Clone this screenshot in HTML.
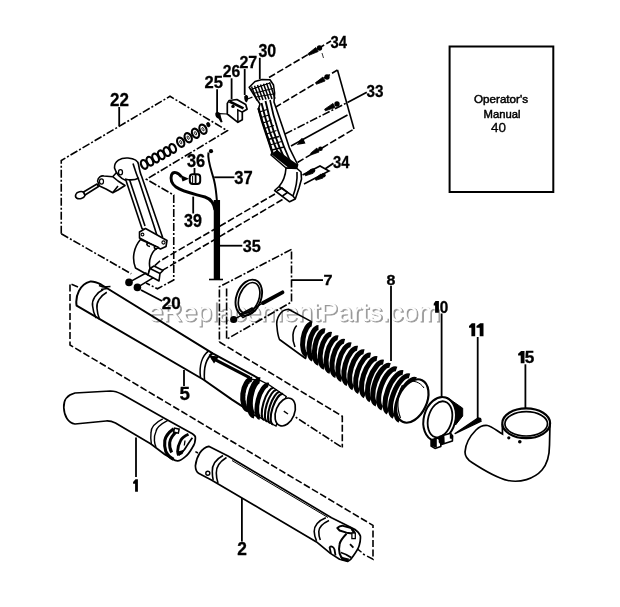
<!DOCTYPE html>
<html><head><meta charset="utf-8"><title>Parts diagram</title>
<style>
html,body{margin:0;padding:0;background:#fff;}
body{width:620px;height:607px;overflow:hidden;}
svg{display:block;font-family:"Liberation Sans",sans-serif;}
.s{fill:none;stroke:#000;}
.p{fill:#fff;stroke:#000;stroke-linejoin:round;}
.d{fill:none;stroke:#000;stroke-dasharray:7 2.5;}
.dd{fill:none;stroke:#000;stroke-dasharray:8 2 2 2;}

</style></head><body>
<svg width="620" height="607" viewBox="0 0 620 607">
<rect width="620" height="607" fill="#fff"/>
<g stroke-width="1.6">
<rect x="449.6" y="46.5" width="103.7" height="145.5" fill="none" stroke="#000" stroke-width="2"/>
<text x="501" y="103" font-size="10.5" text-anchor="middle" textLength="54" lengthAdjust="spacingAndGlyphs" stroke="#000" stroke-width="0.45">Operator's</text>
<text x="502" y="117.5" font-size="10.5" text-anchor="middle" textLength="37" lengthAdjust="spacingAndGlyphs" stroke="#000" stroke-width="0.45">Manual</text>
<text x="498.5" y="131.5" font-size="13" text-anchor="middle" textLength="15" lengthAdjust="spacingAndGlyphs" stroke="#000" stroke-width="0.3">40</text>
<path d="M438.9,301 L438.9,312.7 L435.10,312.7 L435.10,305.5 L433.7,305.5 L433.7,303.7 L435.50,301 Z" fill="#000"/>
<path d="M475.2,323.2 L475.2,336.2 L471.40,336.2 L471.40,327.7 L469,327.7 L469,325.9 L471.80,323.2 Z" fill="#000"/>
<path d="M483.5,323.2 L483.5,336.2 L479.70,336.2 L479.70,327.7 L476.5,327.7 L476.5,325.9 L480.10,323.2 Z" fill="#000"/>
<path d="M524.5,351 L524.5,363.3 L520.70,363.3 L520.70,355.5 L518.1,355.5 L518.1,353.7 L521.10,351 Z" fill="#000"/>
<path d="M137.9,479.2 L137.9,491.8 L135.10,491.8 L135.10,483.7 L133.1,483.7 L133.1,481.9 L135.50,479.2 Z" fill="#000"/>
<text transform="translate(110.09,105.80) scale(0.930,1)" font-size="18.30" font-weight="bold" stroke="#000" stroke-width="0.3">22</text>
<text transform="translate(204.60,88.10) scale(0.966,1)" font-size="17.16" font-weight="bold" stroke="#000" stroke-width="0.3">25</text>
<text transform="translate(222.73,77.20) scale(0.929,1)" font-size="16.88" font-weight="bold" stroke="#000" stroke-width="0.3">26</text>
<text transform="translate(239.42,67.80) scale(0.936,1)" font-size="17.16" font-weight="bold" stroke="#000" stroke-width="0.3">27</text>
<text transform="translate(258.48,56.60) scale(0.897,1)" font-size="17.73" font-weight="bold" stroke="#000" stroke-width="0.3">30</text>
<text transform="translate(330.60,47.80) scale(0.875,1)" font-size="16.88" font-weight="bold" stroke="#000" stroke-width="0.3">34</text>
<text transform="translate(366.50,97.20) scale(0.910,1)" font-size="16.74" font-weight="bold" stroke="#000" stroke-width="0.3">33</text>
<text transform="translate(333.10,167.70) scale(0.938,1)" font-size="15.74" font-weight="bold" stroke="#000" stroke-width="0.3">34</text>
<text transform="translate(186.97,167.30) scale(0.939,1)" font-size="17.45" font-weight="bold" stroke="#000" stroke-width="0.3">36</text>
<text transform="translate(234.37,183.70) scale(0.927,1)" font-size="17.87" font-weight="bold" stroke="#000" stroke-width="0.3">37</text>
<text transform="translate(184.08,227.30) scale(0.880,1)" font-size="18.30" font-weight="bold" stroke="#000" stroke-width="0.3">39</text>
<text transform="translate(242.68,251.80) scale(0.945,1)" font-size="17.16" font-weight="bold" stroke="#000" stroke-width="0.3">35</text>
<text transform="translate(323.55,285.20) scale(1.046,1)" font-size="15.46" font-weight="bold" stroke="#000" stroke-width="0.3">7</text>
<text transform="translate(386.42,285.20) scale(1.085,1)" font-size="14.75" font-weight="bold" stroke="#000" stroke-width="0.3">8</text>
<text transform="translate(439.74,312.70) scale(0.925,1)" font-size="16.60" font-weight="bold" stroke="#000" stroke-width="0.3">0</text>
<text transform="translate(524.68,363.40) scale(0.994,1)" font-size="17.30" font-weight="bold" stroke="#000" stroke-width="0.3">5</text>
<text transform="translate(179.54,399.80) scale(1.052,1)" font-size="17.87" font-weight="bold" stroke="#000" stroke-width="0.3">5</text>
<text transform="translate(237.18,554.70) scale(0.948,1)" font-size="18.30" font-weight="bold" stroke="#000" stroke-width="0.3">2</text>
<line class="s" x1="119.2" y1="107" x2="119.2" y2="126" stroke-width="1.8"/>
<line class="s" x1="217.1" y1="89.3" x2="217.1" y2="112.5" stroke-width="1.8"/>
<line class="s" x1="231.6" y1="78.3" x2="231.6" y2="99" stroke-width="1.8"/>
<line class="s" x1="244.7" y1="69" x2="244.7" y2="95" stroke-width="1.8"/>
<line class="s" x1="259.8" y1="57.8" x2="259.8" y2="79" stroke-width="1.8"/>
<line class="s" x1="194.5" y1="168" x2="194.5" y2="174" stroke-width="1.8"/>
<line class="s" x1="214.2" y1="177.3" x2="234.4" y2="177.3" stroke-width="1.8"/>
<line class="s" x1="193.2" y1="196.6" x2="193.2" y2="213.5" stroke-width="1.8"/>
<line class="s" x1="220" y1="245.7" x2="242.3" y2="245.7" stroke-width="1.8"/>
<line class="s" x1="141" y1="290" x2="162" y2="301" stroke-width="1.8"/>
<line class="s" x1="291.5" y1="280.1" x2="323" y2="280.1" stroke-width="1.8"/>
<line class="s" x1="391" y1="285.8" x2="391" y2="361" stroke-width="1.8"/>
<line class="s" x1="441.6" y1="313.5" x2="441.6" y2="397.5" stroke-width="1.8"/>
<line class="s" x1="477.7" y1="337" x2="477.7" y2="418.5" stroke-width="1.8"/>
<line class="s" x1="525.4" y1="364.3" x2="525.4" y2="408" stroke-width="1.8"/>
<line class="s" x1="184" y1="370" x2="184" y2="386" stroke-width="1.8"/>
<line class="s" x1="136" y1="437.5" x2="136" y2="477" stroke-width="1.8"/>
<line class="s" x1="241.9" y1="496" x2="241.9" y2="541.5" stroke-width="1.8"/>
<line class="s" x1="347.5" y1="102.5" x2="366.8" y2="92.3" stroke-width="1.8"/>
<line class="s" x1="325" y1="169" x2="333.4" y2="163.2" stroke-width="1.8"/>
<path class="dd" d="M61.25,233.75 L61.25,160.5 L170,96.3 L227.3,130.7 L146.5,179.3 L173.75,195 L173.75,280 L157.5,288.75 L146,283"/>
<path class="dd" d="M61.25,233.75 L131.25,273.75"/>
<path class="dd" d="M291.5,249.4 L219.4,286.8 L219.4,342 M226.6,288.6 L226.6,339.3 L291.5,302 L291.5,249.4"/>
<path class="d" d="M78,287 L70,283.75 L70,345 L373,525.4 L373,559.2 L363,554"/>
<path class="d" d="M219.4,342 L342.3,416.3 L342.3,447.6"/>
<path class="dd" d="M287.3,411.7 L342.3,447.6"/>
<path class="d" d="M269,77.5 L331,41"/>
<path class="d" d="M275,107.5 L337.5,70"/>
<path class="dd" d="M285,134 L347.5,102.5"/>
<path class="s" d="M291,146 L347.5,115"/>
<path class="d" d="M297.5,162.5 L354,129"/>
<path class="s" d="M337.5,70 L354,129"/>
<path class="s" d="M302.5,175 L320,166 L329,171 L304,184"/>
<path class="d" d="M275,194 L160,261 L154.6,265.8" stroke-dasharray="11 2.5"/>
<path class="d" d="M282.5,199.5 L160.4,271.6" stroke-dasharray="11 2.5"/>
<rect x="213.75" y="200" width="6.3" height="80" fill="#000"/>
<line class="s" x1="209" y1="279.5" x2="223" y2="279.5" stroke-width="1.6"/>
<path class="s" d="M208.5,152.5 C207,160 212,172 214,180 S216.5,195 217,202" stroke-width="2.0"/>
<circle cx="211" cy="151.2" r="2.1" fill="#000"/>
<path class="s" d="M181.5,177 C178,172 173,171 171.5,175 C170,180 172,184 176,187 C183,192 195,194 205,197 C211,199 214,203 215,210" stroke-width="2.9"/>
<rect x="189.8" y="174.3" width="10.4" height="9.8" rx="3" fill="#fff" stroke="#000" stroke-width="2"/>
<line class="s" x1="195.6" y1="174.5" x2="195.6" y2="184" stroke-width="1.8"/>
<line class="s" x1="192.6" y1="176" x2="192.6" y2="183" stroke-width="1.0"/>
<path d="M180.5,175 l8.5,3.8 l-6.5,2.6 z" fill="#000"/>
<circle cx="129" cy="282.4" r="3.8" fill="#000"/>
<circle cx="137.4" cy="287.4" r="3.8" fill="#000"/>
<ellipse cx="144.2" cy="164.4" rx="3.0" ry="4.6" transform="rotate(-25 144.2 164.4)" fill="#fff" stroke="#000" stroke-width="2.2"/>
<ellipse cx="149.9" cy="161.2" rx="3.0" ry="4.6" transform="rotate(-25 149.9 161.2)" fill="#fff" stroke="#000" stroke-width="2.2"/>
<ellipse cx="155.6" cy="158" rx="3.0" ry="4.6" transform="rotate(-25 155.6 158)" fill="#fff" stroke="#000" stroke-width="2.2"/>
<ellipse cx="161.3" cy="154.8" rx="3.0" ry="4.6" transform="rotate(-25 161.3 154.8)" fill="#fff" stroke="#000" stroke-width="2.2"/>
<ellipse cx="167" cy="151.6" rx="3.0" ry="4.6" transform="rotate(-25 167 151.6)" fill="#fff" stroke="#000" stroke-width="2.2"/>
<ellipse cx="172.7" cy="148.4" rx="3.0" ry="4.6" transform="rotate(-25 172.7 148.4)" fill="#fff" stroke="#000" stroke-width="2.2"/>
<ellipse cx="180.7" cy="142.2" rx="3.3" ry="4.8" transform="rotate(-25 180.7 142.2)" fill="#fff" stroke="#000" stroke-width="2.2"/>
<ellipse cx="180.7" cy="142.2" rx="0.9" ry="1.8" transform="rotate(-25 180.7 142.2)" fill="none" stroke="#000" stroke-width="0.8"/>
<ellipse cx="188.2" cy="137.7" rx="3.3" ry="4.8" transform="rotate(-25 188.2 137.7)" fill="#fff" stroke="#000" stroke-width="2.2"/>
<ellipse cx="188.2" cy="137.7" rx="0.9" ry="1.8" transform="rotate(-25 188.2 137.7)" fill="none" stroke="#000" stroke-width="0.8"/>
<ellipse cx="195.5" cy="133.3" rx="3.3" ry="4.8" transform="rotate(-25 195.5 133.3)" fill="#fff" stroke="#000" stroke-width="2.2"/>
<ellipse cx="195.5" cy="133.3" rx="0.9" ry="1.8" transform="rotate(-25 195.5 133.3)" fill="none" stroke="#000" stroke-width="0.8"/>
<ellipse cx="203" cy="129.2" rx="3.3" ry="4.8" transform="rotate(-25 203 129.2)" fill="#fff" stroke="#000" stroke-width="2.2"/>
<ellipse cx="203" cy="129.2" rx="0.9" ry="1.8" transform="rotate(-25 203 129.2)" fill="none" stroke="#000" stroke-width="0.8"/>
<ellipse cx="208.3" cy="124.6" rx="2" ry="2.6" transform="rotate(-25 208.3 124.6)" fill="#000"/>
<path class="p" d="M114.5,168 C114,161 121,157.5 128,158 C134,158.5 138,161 138.5,164.5 C139.5,170 140.5,174 141.5,176 L151,203.5 L162.5,237 L158,240 L142,228.5 L126,180.5 C122,179 117,176 114.5,168 Z"/>
<path class="s" d="M133,163.5 C135,170 137.5,177 139.5,182 L153.5,224.5 L157,235.5"/>
<path class="s" d="M129.5,179.5 L145,226"/>
<path class="s" d="M125,179 C130,180.5 135,180 139,178"/>
<ellipse cx="120.5" cy="172.2" rx="2" ry="2.6" fill="#fff" stroke="#000" stroke-width="1.3"/>
<path class="p" d="M97.6,181 C98,177 101,175.5 104,176 L112.7,176.7 L118,181 L125,185.5 L118,190 L112.7,192.7 L106,189 L99.5,186 Z"/>
<ellipse cx="101.5" cy="181.5" rx="2" ry="2.6" fill="#fff" stroke="#000" stroke-width="1.2"/>
<path class="s" d="M112.7,176.7 L117,172 M112.7,192.7 L118,186"/>
<path class="p" d="M83.5,192 L97,184 L98.5,186.5 L85,195 Z"/>
<path class="p" d="M76,194 C77,191.5 82,191 83.5,192.3 L85,195.5 C84,198.5 79,199.5 76.5,198 C75.3,197 75.3,195.5 76,194 Z"/>
<path class="p" d="M139.5,232 L145.5,228.5 L167,240.5 L166,246.5 L160.5,249 L139.5,238 Z"/>
<path class="p" d="M140.5,239.5 C134,247 131.5,258 135.5,268 L148,275 L150,268 C148,260 152,250 158.5,247.5 Z"/>
<path class="p" d="M148,275 L150,268.5 L160,273.5 L159,281 L148,275 Z M150,268.5 L154,266 L163,270.5 L160,273.5"/>
<path class="s" d="M148,242 C146,244.5 147,246 150,246.5 M155,245.5 C153.5,247.5 154.5,249 157,249"/>
<circle cx="163.5" cy="242.5" r="1.6" fill="#fff" stroke="#000" stroke-width="1.1"/>
<circle cx="142.5" cy="234.5" r="1.4" fill="#fff" stroke="#000" stroke-width="1.1"/>
<path class="s" d="M129,282.4 L146.5,272.7 M137.4,287.4 L153.4,277.6"/>
<path d="M215.3,113.5 C216,111.5 219,111.8 220.3,113.6 L221,117 L222.6,122 L220.8,122.4 L218.6,118.8 C216.5,118.3 215,116 215.3,113.5 Z" fill="#000"/>
<path class="s" d="M219,113.6 L227.3,114" stroke-width="1.2"/>
<path class="p" d="M227.3,103.4 L229.2,100.5 L236.9,99.5 L245.7,104.4 L247.1,109.2 L242.3,112.1 L242.3,119.8 L237.9,122.3 L227.3,114 Z" stroke-width="1.7"/>
<path class="s" d="M229.5,101.5 L243.5,108.3" stroke-width="2.6"/>
<path class="s" d="M242.3,112.1 L237.8,110 L237.9,122.3" stroke-width="1.5"/>
<circle cx="233" cy="106.4" r="1.7" fill="#000"/>
<path d="M244.3,96.5 C244.8,94.5 247.5,94.3 248,96.5 C248.5,99 247.8,101.5 246.3,102.4 C244.8,101.5 243.9,99 244.3,96.5 Z" fill="#000"/>
<path class="s" d="M247.5,99 L252.4,97.1" stroke-width="1.3"/>
<path class="p" d="M249.2,87.3 L255,81.5 L262,79.5 L270,79.7 L273.5,85 L274.6,93 L274,102 L282.7,127.6 L289.6,148.4 L297.6,164.5 L296.5,169 L286,168 L271,155 L272.3,152 L258.4,109.2 L260,104 L255,96.5 Z"/>
<path class="s" d="M251.5,86.5 L257.0,100.5" stroke-width="1.5"/>
<path class="s" d="M254.5,85.8 L260.0,100.2" stroke-width="1.5"/>
<path class="s" d="M257.5,85.1 L263.0,99.9" stroke-width="1.5"/>
<path class="s" d="M260.5,84.4 L266.0,99.6" stroke-width="1.5"/>
<path class="s" d="M263.5,83.7 L269.0,99.3" stroke-width="1.5"/>
<path class="s" d="M266.5,83.0 L272.0,99.0" stroke-width="1.5"/>
<path class="s" d="M269.5,82.3 L275.0,98.7" stroke-width="1.5"/>
<path class="s" d="M251,89.5 L270,83 M253,93.5 L273,88.5 M256,97 L273.5,94" stroke-width="1.2"/>
<path class="s" d="M261.5,103 C265.5,120 271.5,140 280.5,158" stroke-width="1.9"/>
<path class="s" d="M265.5,101 C269.5,120 276.5,142 285.5,161" stroke-width="1.9"/>
<path class="s" d="M270,100 C273.5,118 280.5,140 290.5,162" stroke-width="1.7"/>
<path class="s" d="M259.5,112 L267,109.5 M263,123 L271.5,120 M266.5,134 L276.5,130.5 M270,145 L281.5,141.5 M261,117.5 L269,115 M264.5,128.5 L274,125.5 M268,139.5 L279,136.5 M272,150 L284,147" stroke-width="1.3"/>
<path d="M271,154 L277,150 L297.6,164.5 L296.5,169.5 L290,169 Z" fill="#000"/>
<path class="s" d="M258.5,108 L262,121 L266,133 L270,145 L272.5,153" stroke-width="2.4"/>
<path class="p" d="M286,168 L297,168.5 L301,172 L301.5,179 L299,188 L295.3,199 L289.6,201.8 L274.6,190.5 L279,186.5 C283,182 285.5,176 286,168 Z"/>
<path class="s" d="M279,186.5 L293,196 L295.3,199 M293,196 C296,188 297.5,180 297,172"/>
<path class="s" d="M277,191 L282,188 L287.5,192.5 L282.5,196" stroke-width="1.6"/>
<path d="M309.0,55.3 L318.2,51.5 L315.8,47.5 L308.0,53.7 Z" fill="#000" stroke="#000" stroke-width="0.8" stroke-linejoin="round"/>
<circle cx="319.5" cy="48" r="2.7" fill="#000"/>
<path d="M316.4,84.3 L325.1,81.0 L322.9,77.0 L315.6,82.7 Z" fill="#000" stroke="#000" stroke-width="0.8" stroke-linejoin="round"/>
<circle cx="327" cy="77" r="2.7" fill="#000"/>
<path d="M325.4,110.8 L335.0,107.6 L333.0,103.4 L324.6,109.2 Z" fill="#000" stroke="#000" stroke-width="0.8" stroke-linejoin="round"/>
<circle cx="337" cy="104" r="2.7" fill="#000"/>
<path d="M299.4,143.3 L304.0,142.6 L302.0,138.4 L298.6,141.7 Z" fill="#000" stroke="#000" stroke-width="0.8" stroke-linejoin="round"/>
<path d="M296.5,145 L303,138 L305.5,143.5 Z" fill="#000"/>
<path d="M311.4,154.8 L319.1,152.0 L316.9,148.0 L310.6,153.2 Z" fill="#000" stroke="#000" stroke-width="0.8" stroke-linejoin="round"/>
<circle cx="320.5" cy="148.8" r="2.3" fill="#000"/>
<path d="M305.4,175.8 L313.1,173.3 L310.9,169.3 L304.6,174.2 Z" fill="#000" stroke="#000" stroke-width="0.8" stroke-linejoin="round"/>
<circle cx="313" cy="170.6" r="2.3" fill="#000"/>
<path d="M315.9,180.3 L323.1,178.0 L320.9,174.0 L315.1,178.7 Z" fill="#000" stroke="#000" stroke-width="0.8" stroke-linejoin="round"/>
<circle cx="323.5" cy="175.2" r="2.2" fill="#000"/>
<path class="s" d="M322,53 L323.5,58" stroke-width="0.8"/>
<ellipse cx="249" cy="297.5" rx="12.3" ry="18.6" transform="rotate(21 248.8 297)" fill="none" stroke="#000" stroke-width="1.9"/>
<ellipse cx="249.3" cy="297.8" rx="9.8" ry="16" transform="rotate(21 249 297.3)" fill="none" stroke="#000" stroke-width="1.7"/>
<path class="s" d="M240,314.5 L252,308 L254.5,311 L243,317.5 Z" stroke-width="1.6"/>
<circle cx="233.7" cy="319.5" r="3.6" fill="#000"/>
<line class="s" x1="233.7" y1="319.7" x2="263" y2="303" stroke-width="1.4"/>
<line x1="263" y1="303" x2="282.5" y2="292.3" stroke="#000" stroke-width="3.8" stroke-linecap="round"/>
<path class="p" d="M76.6,305.6 C75,296 80,284 90,281.6 C94,281 98,283 101,284.5 L213.1,353.7 L259,378.6 L250,400 L247.8,409.8 L232,399.6 L203.3,379.5 Z" stroke-width="2.0"/>
<path class="s" d="M103.3,289.6 C96,293 91.5,300 92.6,306 C93,311 94.5,315 96.1,318 M106.8,292.2 C100,296 96,303 97,308.5 C97.3,313 98.5,317 99.7,319.8"/>
<path class="s" d="M99,285.5 L103,287 L110.5,286.5 M101,289.5 L107,288.5"/>
<path class="s" d="M208.5,351 C202,356 199,366 200.5,377.5 M212.5,353.5 C206.5,358 203.5,367 204.5,380"/>
<path d="M212.2,358.1 L249.6,377.7" stroke="#000" stroke-width="3" fill="none"/>
<path d="M209,355.5 L219,356.5 L214,363.5 Z" fill="#000"/>
<path class="s" d="M209,355.5 L212.5,352.5" stroke-width="1.1"/>
<path d="M251.2,379.3 L260.2,380.4 L269.3,385 L286.2,396.5 L276,426.1 L260.2,417.7 L254.6,415.4 L247.8,409.8 C241,400 243,386 251.2,379.3 Z" fill="#fff" stroke="#000" stroke-width="1.4"/>
<path d="M252.0,379.5 A15.2 7.4 96.4 0 0 248.6,409.8" fill="none" stroke="#000" stroke-width="5.2"/>
<path d="M250.5,382 A15 6.2 96 0 0 247.6,407" fill="none" stroke="#fff" stroke-width="0.7" stroke-dasharray="1 2"/>
<path d="M260.0,380.4 A17.7 7.0 99.1 0 0 254.4,415.4" fill="none" stroke="#000" stroke-width="6.2"/>
<path d="M268.6,385.0 A16.9 6.4 104.7 0 0 260.0,417.7" fill="none" stroke="#000" stroke-width="4.6"/>
<path d="M273.5,388.0 A16.7 5.6 106.5 0 0 264.0,420.0" fill="none" stroke="#000" stroke-width="2.1"/>
<path d="M276.7,390.0 A16.5 5.6 107.1 0 0 267.0,421.5" fill="none" stroke="#000" stroke-width="2.1"/>
<path d="M279.8,392.0 A16.3 5.6 107.6 0 0 270.0,423.0" fill="none" stroke="#000" stroke-width="2.1"/>
<path d="M283.0,394.0 A16.0 5.6 108.2 0 0 273.0,424.5" fill="none" stroke="#000" stroke-width="2.1"/>
<ellipse cx="285.2" cy="412" rx="9.3" ry="14.6" transform="rotate(22 285.2 412)" fill="#fff" stroke="#000" stroke-width="1.7"/>
<path class="s" d="M283.8,411.2 L288,414" stroke-width="1.5"/>
<path class="p" d="M277,327 C275.5,318 281,309.5 288.5,309.3 L311,321.4 L305.6,358.5 L279.5,339.5 C278,336 277.3,331 277,327 Z"/>
<path class="s" d="M296.7,325.5 C292.5,330 291.5,339 295,347"/>
<path d="M309,322 L423,381.5 L403,423.5 L304,355 Z" fill="#fff" stroke="none"/>
<path d="M312.0,324.0 A15.7 6.5 99.2 0 0 307.0,355.0" fill="none" stroke="#000" stroke-width="5.0"/>
<path d="M318.5,327.5 A16.1 6.7 100.3 0 0 312.8,359.1" fill="none" stroke="#000" stroke-width="5.0"/>
<path d="M325.0,330.9 A16.4 6.8 101.3 0 0 318.6,363.2" fill="none" stroke="#000" stroke-width="5.0"/>
<path d="M331.5,334.4 A16.8 7.0 102.3 0 0 324.3,367.3" fill="none" stroke="#000" stroke-width="5.0"/>
<path d="M338.0,337.9 A17.2 7.1 103.2 0 0 330.1,371.4" fill="none" stroke="#000" stroke-width="5.0"/>
<path d="M344.5,341.3 A17.6 7.3 104.1 0 0 335.9,375.5" fill="none" stroke="#000" stroke-width="5.0"/>
<path d="M351.0,344.8 A18.0 7.4 105.0 0 0 341.7,379.6" fill="none" stroke="#000" stroke-width="5.0"/>
<path d="M357.5,348.3 A18.4 7.6 105.8 0 0 347.5,383.7" fill="none" stroke="#000" stroke-width="5.0"/>
<path d="M364.0,351.8 A18.8 7.8 106.6 0 0 353.2,387.8" fill="none" stroke="#000" stroke-width="5.0"/>
<path d="M370.5,355.2 A19.2 7.9 107.4 0 0 359.0,391.8" fill="none" stroke="#000" stroke-width="5.0"/>
<path d="M377.0,358.7 A19.6 8.1 108.1 0 0 364.8,395.9" fill="none" stroke="#000" stroke-width="5.0"/>
<path d="M383.5,362.2 A20.0 8.2 108.8 0 0 370.6,400.0" fill="none" stroke="#000" stroke-width="5.0"/>
<path d="M390.0,365.6 A20.4 8.4 109.5 0 0 376.4,404.1" fill="none" stroke="#000" stroke-width="5.0"/>
<path d="M396.5,369.1 A20.8 8.5 110.1 0 0 382.2,408.2" fill="none" stroke="#000" stroke-width="5.0"/>
<path d="M403.0,372.6 A21.3 8.7 110.8 0 0 387.9,412.3" fill="none" stroke="#000" stroke-width="5.0"/>
<path d="M409.5,376.0 A21.7 8.8 111.3 0 0 393.7,416.4" fill="none" stroke="#000" stroke-width="5.0"/>
<path d="M416.0,379.5 A22.1 9.0 111.9 0 0 399.5,420.5" fill="none" stroke="#000" stroke-width="5.0"/>
<ellipse cx="412.3" cy="401" rx="14.3" ry="23" transform="rotate(25 412.3 401)" fill="#fff" stroke="#000" stroke-width="2.2"/>
<path d="M402.5,385 C397,395 396.5,408 400.5,418" fill="none" stroke="#000" stroke-width="1.2"/>
<path d="M407,382.5 C413,379.5 420,382 424,388" fill="none" stroke="#000" stroke-width="1.0"/>
<path d="M444,397.3 L447,397.3 L462.7,408.2 L462.7,416 L455.5,425 C457.5,415 455,405 444,397.3 Z" fill="#000" stroke="#000" stroke-width="1"/>
<ellipse cx="439.6" cy="419" rx="15.8" ry="22.3" transform="rotate(15 439.6 419)" fill="#fff" stroke="#000" stroke-width="2"/>
<ellipse cx="440" cy="419.3" rx="11.8" ry="18.4" transform="rotate(15 440 419.3)" fill="#fff" stroke="#000" stroke-width="1.8"/>
<path class="s" d="M447,398.5 L457,405.5 L457.5,412" stroke="#fff" stroke-width="0.8"/>
<path class="p" d="M431.1,440 L437,437.9 L440.8,440 L440.8,446.5 L435,448.4 L431.1,446 Z" stroke-width="1.6"/>
<path d="M431.1,440 L436.8,438 L436.8,447.8 L431.1,446 Z" fill="#000"/>
<path class="p" d="M439.5,436.5 L450.5,433.2 L452.6,436 L452.4,441 L441.5,444.6 L439.5,442 Z" stroke-width="1.6"/>
<path d="M439.5,436.5 L444.3,435 L444.8,443.5 L441.5,444.6 L439.5,442 Z" fill="#000"/>
<path d="M449.8,433.4 L452.6,436 L452.4,439 L449.8,438.5 Z" fill="#000"/>
<path d="M455,433.6 L478.3,417.8 L481.2,421.2 Z" fill="#000" stroke="#000" stroke-width="1.2" stroke-linejoin="round"/>
<circle cx="479.5" cy="419.6" r="2.0" fill="#000"/>
<path d="M502.3,424 L502.5,434 C496,430 491,426 487.5,425.5 C483,425 479,427 476,430 C470,436 465.5,443 465,452 C465,457 468,460 472,462.5 C485,471 497,478 508,480.5 C520,483 534,479 542,470 C548,463 549.5,452 549.5,445 L550,423 " fill="#fff" stroke="#000" stroke-width="1.7"/>
<ellipse cx="526.2" cy="423.3" rx="23.9" ry="14.9" fill="#fff" stroke="#000" stroke-width="2.2"/>
<ellipse cx="526.2" cy="423.8" rx="21.3" ry="12.2" fill="none" stroke="#000" stroke-width="1.7"/>
<circle cx="508.8" cy="437.8" r="1.6" fill="#000"/><circle cx="519.8" cy="441.8" r="1.8" fill="#000"/>
<path class="p" d="M63.8,407.5 C63.5,400 67,395 75,393 L110.5,391 C115,391 118,392.2 122,394.3 L164.8,418.4 L192.4,433.7 C194.5,435 195.5,436.5 195.4,437.7 C195.5,441 194.5,444.5 192.4,447.5 C190.5,451 188,455 184.5,457.4 C182,459.5 179.5,461 177.6,460.9 C176,461 174,460 172,458.7 L164.8,454.5 L151,444 L115.5,423 C112,421.3 109,420.8 106,421 L75,424 C68,423 64.2,416 63.8,407.5 Z" stroke-width="1.7"/>
<path class="s" d="M162.8,418.9 C155.5,422.5 151,428 151,432.7 C150.5,437 150.8,441 151.4,444.6 M167.8,420.4 C160,424.5 156.3,428.5 155.9,431.7 C154.5,434.5 154.2,437.5 154.4,440.6 C154.6,443 155.2,445.3 156,447" stroke-width="1.4"/>
<path class="s" d="M173.7,428.8 C168.5,432.5 165.5,436.5 164.8,440.6 C164.3,444.5 164.6,448 165.8,451.5 C167.5,455 170,457.5 173.7,459.4" stroke-width="3.1"/>
<path class="s" d="M177.6,430.7 C173,434.5 170.3,438.5 169.7,442.6 C169.3,446.5 170,449.5 171.7,452.5" stroke-width="3.0"/>
<rect x="174" y="428.6" width="4.8" height="4" fill="#fff" stroke="#000" stroke-width="1.5" transform="rotate(12 176.4 430.6)"/>
<path class="s" d="M188.5,434.2 C184.5,436 181.8,438 180.6,440.6 C178.8,444 177.6,447.5 177.6,451.5 C177.7,453 178,454.3 178.6,455.4" stroke-width="2.8"/>
<path class="s" d="M192.4,437.7 C189.5,441.5 187,445.5 184.5,449.5 C182.5,452 180.5,454 178.6,455.4" stroke-width="1.8"/>
<path d="M177.8,451.5 L184.3,449.8 L182.5,454 L178.8,455.5 Z" fill="#000"/>
<path class="s" d="M185,440.5 L184.3,445.5" stroke-width="1.3"/>
<path class="p" d="M208.7,446.3 C202,447.5 196.5,456 195.4,465.8 C195.5,470 197,472.5 199,473.5 L211.4,480 L316.5,541.9 L330.4,553.4 L339.6,559.2 L347.7,561.5 C350,560.5 352,558 353.4,555.7 C356,552 358.3,548.5 359.2,545.4 C360.3,542 360.6,539 360.4,536.1 C359.5,533 357,530.8 354.6,529.2 L343.1,523.5 L331.5,517.7 L228,456 Z" stroke-width="1.7"/>
<path class="s" d="M223,455.5 C216.5,459 212,465 212.3,471.5 C212.3,475 212.6,478 213.2,480 M226.5,457.5 C220,461.5 216,467 216.3,473 C216.3,477 217,480 218,483"/>
<circle cx="207.8" cy="473.3" r="2" fill="#fff" stroke="#000" stroke-width="1.4"/>
<path class="s" d="M195.4,451.6 L198,453"/>
<path class="s" d="M232,460.5 L328,517.5" stroke-width="1.0"/>
<path class="s" d="M325.8,517.7 C318.5,520.5 314,526 314.2,531.5 C314.3,535 315.2,538 316.5,540.8 M329,520.5 C322.5,523.5 319,527.5 318.8,531.5 C318.7,534.5 319.3,537.5 320.3,540"/>
<path class="p" d="M337.3,528 C339,526.3 341,525.6 343,525.8 L351.1,528 L354.6,533.8 L346.5,532.7 L339.6,530.5 Z" stroke-width="1.9"/>
<path d="M350,527 L353.5,528.5 L355.7,532.7 L352,531 Z" fill="#000"/>
<rect x="351.9" y="533" width="3.4" height="5.6" fill="#fff" stroke="#000" stroke-width="1.3"/>
<path class="s" d="M346.5,533.8 C342.5,538 340,541 339.6,544.2 C338.8,548 338.8,551 339.6,553.4 C340.5,556.5 342,558.5 343.5,559.5" stroke-width="2"/>
<path class="s" d="M329.5,547 C331.5,545.8 333.5,546.8 334.5,549.5 L335.5,555.5 M331,553.8 L329.5,547" stroke-width="1.8"/>
<path class="s" d="M340.8,552.5 C344,553.5 348,555 351.1,557.5" stroke-width="1.8"/>
<path d="M340.5,556.5 L349.5,558.8 L347.5,561.5 L341.5,560.3 Z" fill="#000"/>
<path class="s" d="M350,544.2 L353.4,547.7" stroke-width="1.8"/>
<path class="s" d="M358,549.4 L361.5,552.3" stroke-width="1.4"/>
</g>
<defs><filter id="bl" x="-5%" y="-30%" width="110%" height="160%"><feGaussianBlur stdDeviation="0.7"/></filter></defs>
<g font-size="26" style="mix-blend-mode:multiply">
<text x="149.4" y="322.4" textLength="292" lengthAdjust="spacingAndGlyphs" fill="#808080" stroke="#808080" stroke-width="0.8" filter="url(#bl)" opacity="0.8">eReplacementParts.com</text>
<text x="148" y="321" textLength="292" lengthAdjust="spacingAndGlyphs" fill="#fff" stroke="#fff" stroke-width="0.3" opacity="1">eReplacementParts.com</text>
</g>
<text transform="translate(161.79,308.70) scale(1.034,1)" font-size="16.45" font-weight="bold" stroke="#000" stroke-width="0.3">20</text>
</svg>
</body></html>
